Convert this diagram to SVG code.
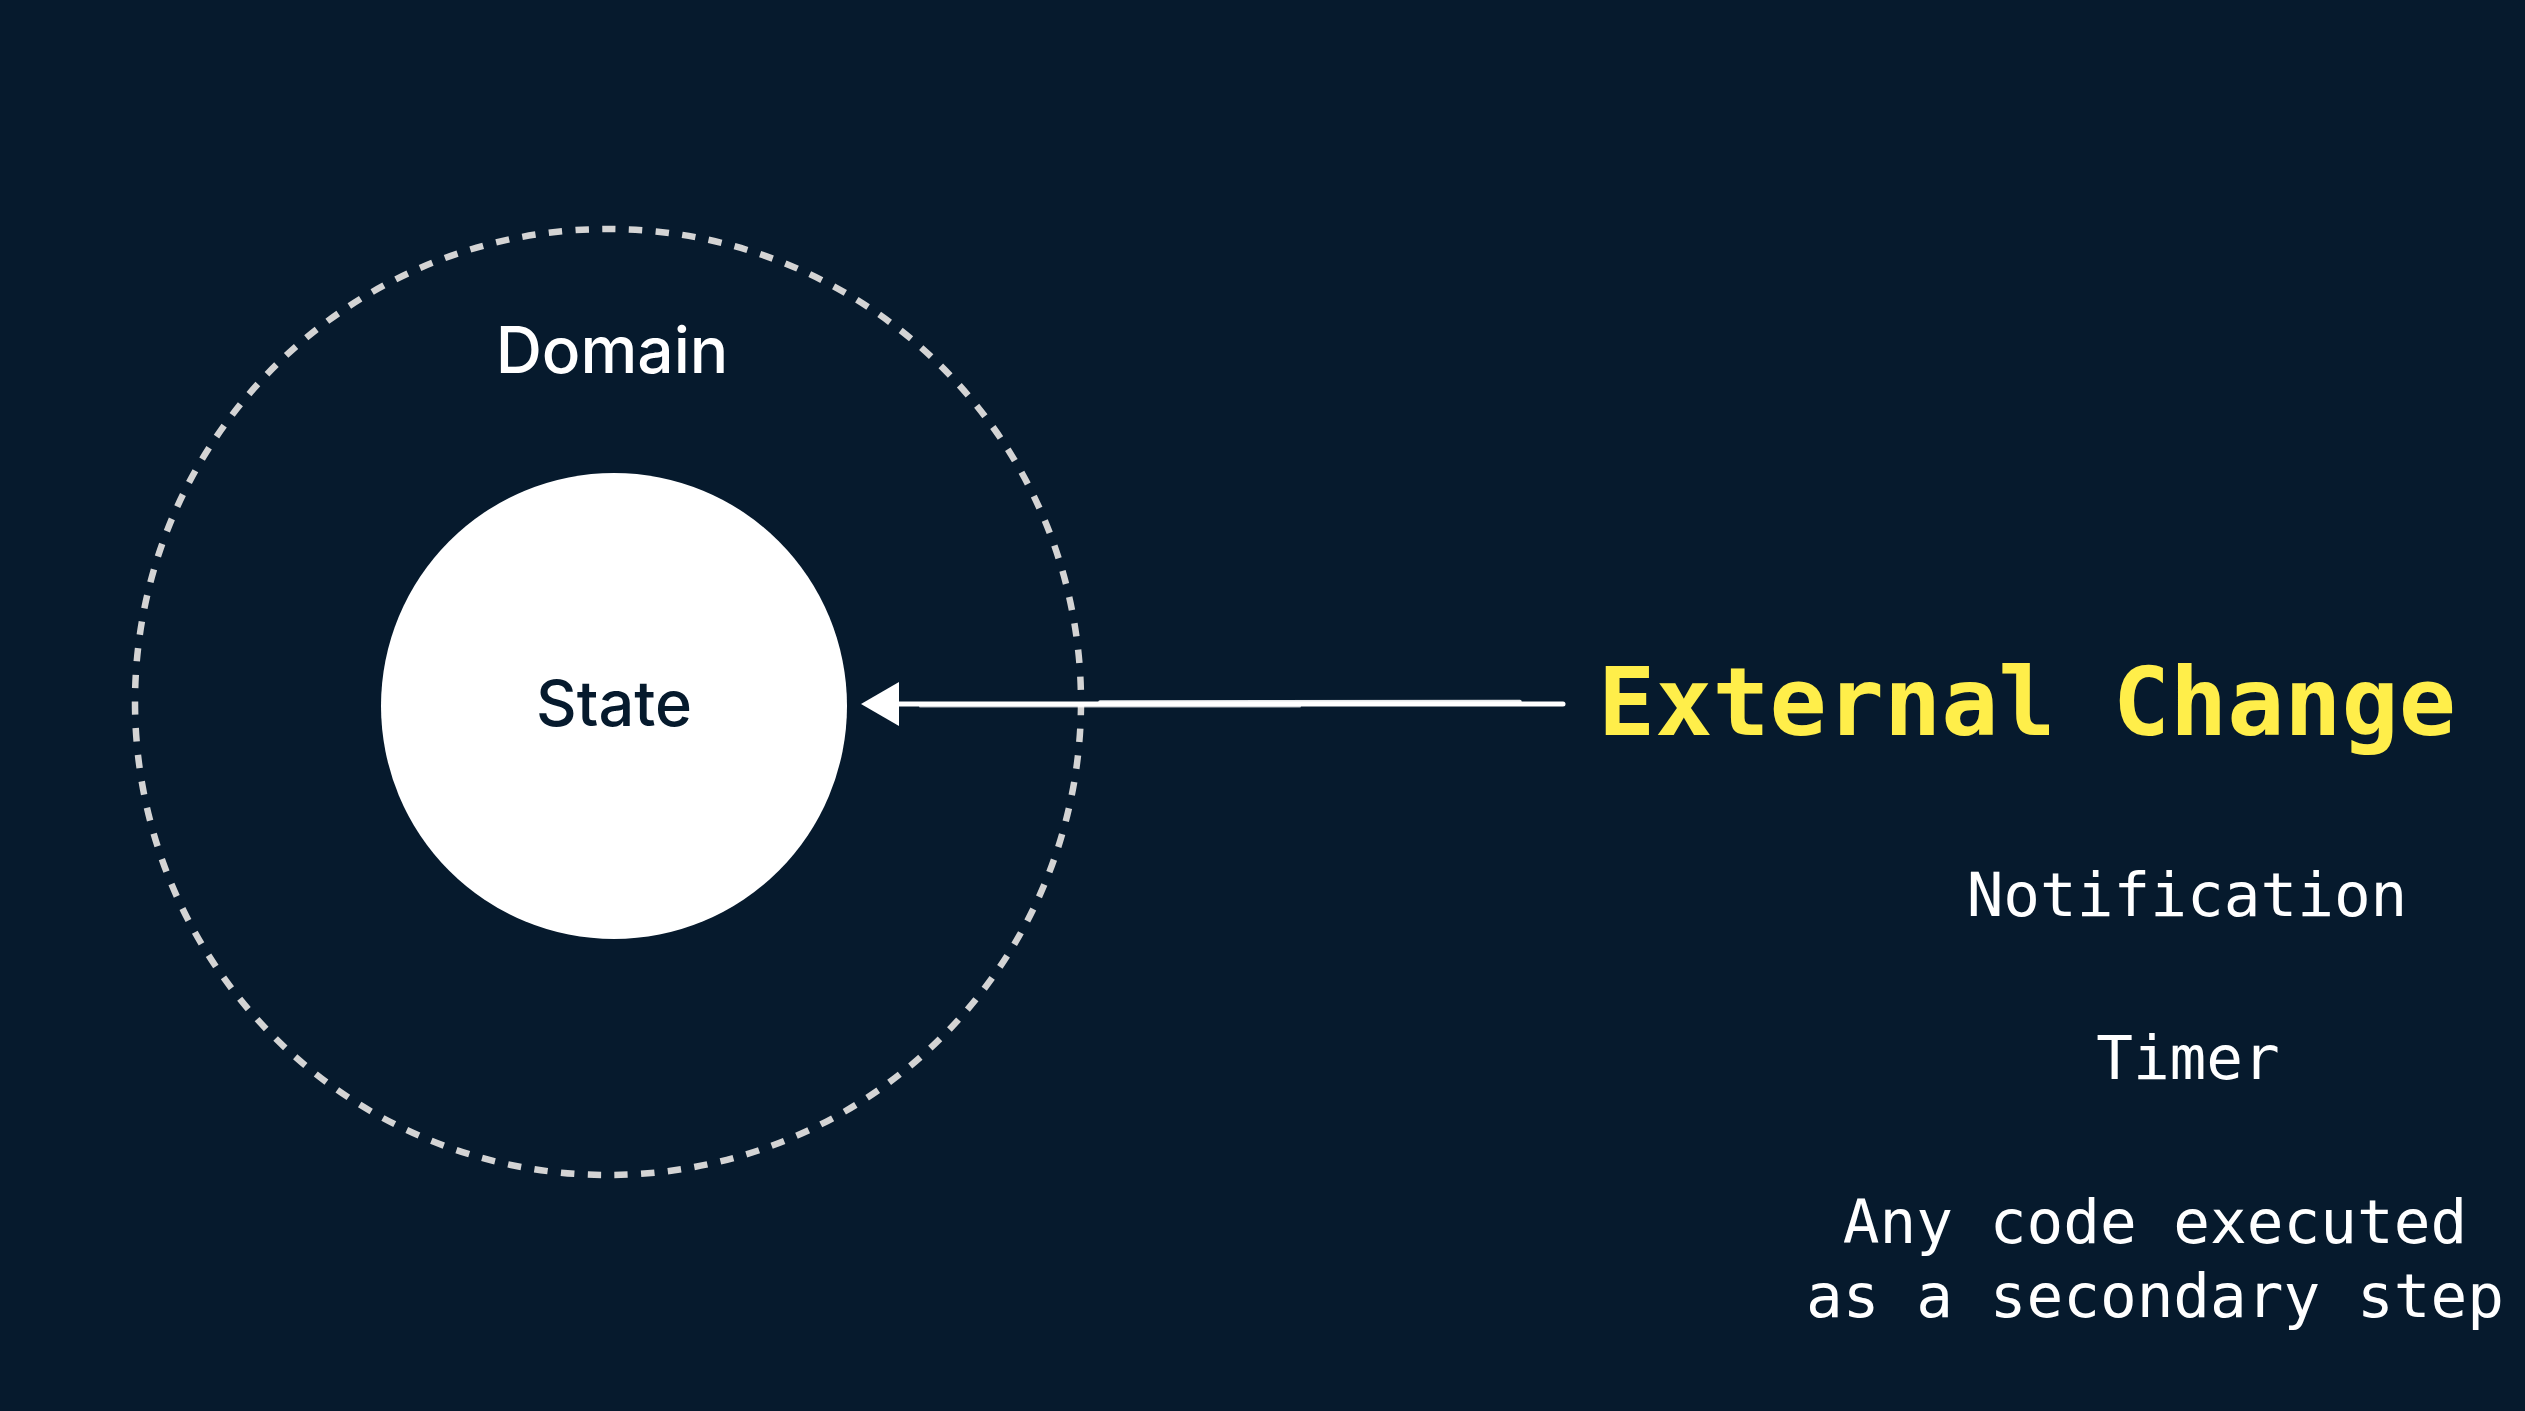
<svg xmlns="http://www.w3.org/2000/svg" width="2525" height="1411" viewBox="0 0 2525 1411">
  <style>
    .sans { font-family: Inter, "Noto Sans", "DejaVu Sans", sans-serif; font-weight: 500; }
    .mono { font-family: "DejaVu Sans Mono", "Liberation Mono", monospace; }
    .item { fill: #ffffff; font-size: 61px; text-anchor: middle; }
  </style>
  <defs>
    <marker id="head" viewBox="0 0 40 44" refX="2" refY="22" markerWidth="40" markerHeight="44" markerUnits="userSpaceOnUse" orient="auto">
      <path d="M0,0 L38,22 L0,44 Z" fill="#ffffff"/>
    </marker>
  </defs>
  <rect x="0" y="0" width="2525" height="1411" fill="#061a2d"/>

  <g id="domain">
    <circle cx="608" cy="702" r="473" fill="none" stroke="#d4d4d4" stroke-width="6.5" stroke-dasharray="13.39 13.39"/>
    <text class="sans" x="612" y="373" font-size="64" fill="#ffffff" text-anchor="middle">Domain</text>
  </g>

  <g id="state">
    <circle cx="614" cy="706" r="233" fill="#ffffff"/>
    <text class="sans" x="614" y="726" font-size="63" fill="#061a2d" text-anchor="middle">State</text>
  </g>

  <g id="connectors">
    <path d="M1563,704 L897,704" fill="none" stroke="#ffffff" stroke-width="5" stroke-linecap="round" marker-end="url(#head)"/>
    <path d="M1100,702 L1520,701.5" fill="none" stroke="#ffffff" stroke-width="3.5" stroke-linecap="round" opacity="0.9"/>
    <path d="M920,706.5 L1300,706.5" fill="none" stroke="#ffffff" stroke-width="2" stroke-linecap="round" opacity="0.7"/>
  </g>

  <g id="external-change">
    <text class="mono" x="1598" y="735" font-size="95" font-weight="bold" fill="#ffee4a">External Change</text>
  </g>

  <g id="notification">
    <text class="mono item" x="2187" y="916">Notification</text>
  </g>

  <g id="timer">
    <text class="mono item" x="2188" y="1079">Timer</text>
  </g>

  <g id="secondary-code">
    <text class="mono item" x="2155" y="1243">Any code executed</text>
    <text class="mono item" x="2155" y="1317">as a secondary step</text>
  </g>
</svg>
